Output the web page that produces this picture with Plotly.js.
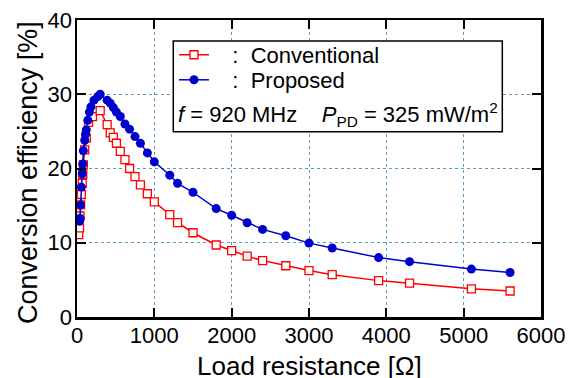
<!DOCTYPE html>
<html>
<head>
<meta charset="utf-8">
<script src="https://cdn.plot.ly/plotly-3.0.1.min.js"></script>
<style>html,body{margin:0;padding:0;background:#fff;}#chart{width:579px;height:378px;}</style>
</head>
<body>
<div id="chart"></div>
<script>
// Load resistance [Ω] and conversion efficiency [%]
const convR = [22, 33, 39, 47, 56, 68, 75, 82, 100, 120, 150, 200, 300, 390, 430, 470, 510, 560, 620, 680, 750, 820, 910, 1000, 1200, 1300, 1500, 1800, 2000, 2200, 2400, 2700, 3000, 3300, 3900, 4300, 5100, 5600];
const convE = [11.1, 12.0, 13.6, 15.1, 16.5, 18.0, 19.2, 20.5, 22.5, 24.1, 26.2, 27.0, 27.8, 25.9, 24.8, 24.2, 23.4, 22.3, 21.2, 20.0, 18.9, 17.8, 16.6, 15.5, 13.8, 12.7, 11.35, 9.7, 8.95, 8.2, 7.6, 6.9, 6.25, 5.7, 4.9, 4.55, 3.8, 3.5];
const propR = [33, 39, 47, 56, 68, 75, 82, 100, 110, 120, 140, 160, 180, 220, 270, 300, 390, 430, 470, 510, 560, 620, 680, 750, 820, 910, 1000, 1200, 1300, 1500, 1800, 2000, 2200, 2400, 2700, 3000, 3300, 3900, 4300, 5100, 5600];
const propE = [12.9, 13.3, 15.1, 17.5, 19.3, 20.6, 22.4, 23.8, 24.6, 25.2, 26.5, 27.6, 28.3, 29.2, 29.7, 30.0, 29.2, 28.8, 28.2, 27.6, 27.0, 26.0, 25.3, 24.3, 23.4, 22.1, 20.9, 19.1, 18.0, 16.8, 14.6, 13.7, 12.7, 11.8, 10.95, 9.95, 9.3, 8.0, 7.45, 6.45, 6.0];
const seriesNames = ['\u00a0\u00a0\u00a0:\u00a0\u00a0Conventional', '\u00a0\u00a0\u00a0:\u00a0\u00a0Proposed'];
const xTicks = [0, 1000, 2000, 3000, 4000, 5000, 6000];
const yTicks = [0, 10, 20, 30, 40];
const xTitle = 'Load resistance [\u03a9]';
const yTitle = 'Conversion efficiency [%]';
const conditionText = '<i>f</i> = 920 MHz\u00a0\u00a0\u00a0\u00a0<i>P</i><sub>PD</sub> = 325 mW/m<sup>2</sup>';

const FONT = 'Liberation Sans, Arial, Helvetica, sans-serif';
const gridColor = '#5b9bc0';

const traces = [
  {x: convR, y: convE, name: seriesNames[0], type: 'scatter', mode: 'lines+markers', legend: 'legend',
   line: {color: '#ff0000', width: 1.5},
   marker: {symbol: 'square', size: 8, color: '#ffffff', line: {color: '#ff0000', width: 1.3}}},
  {x: propR, y: propE, name: seriesNames[1], type: 'scatter', mode: 'lines+markers', legend: 'legend2',
   line: {color: '#0000cc', width: 1.5},
   marker: {symbol: 'circle', size: 9, color: '#0000cc', line: {width: 0}}}
];

const axisCommon = {
  showline: true, linecolor: '#000', linewidth: 2.5, mirror: 'ticks',
  ticks: 'inside', ticklen: 9, tickwidth: 2, tickcolor: '#000',
  showgrid: true, gridcolor: gridColor, gridwidth: 1, griddash: 'dot',
  zeroline: false, tickfont: {family: FONT, size: 22, color: '#000'}
};

const legendCommon = {xanchor: 'left', yanchor: 'top', bgcolor: 'rgba(0,0,0,0)', borderwidth: 0,
  font: {family: FONT, size: 22, color: '#000'}};

const layout = {
  width: 579, height: 378,
  margin: {l: 77, r: 38, t: 20, b: 61},
  paper_bgcolor: '#fff', plot_bgcolor: '#fff',
  font: {family: FONT, color: '#000'},
  xaxis: Object.assign({}, axisCommon, {
    range: [0, 6000], tickvals: xTicks, ticktext: xTicks.map(String), ticklabelstandoff: -3
  }),
  yaxis: Object.assign({}, axisCommon, {
    range: [0, 40], tickvals: yTicks, ticktext: yTicks.map(String), ticklabelstandoff: -2
  }),
  showlegend: true,
  legend: Object.assign({}, legendCommon, {x: 0.209, y: 0.953}),
  legend2: Object.assign({}, legendCommon, {x: 0.209, y: 0.8687}),
  shapes: [
    {type: 'rect', xref: 'paper', yref: 'paper', x0: 0.2075, x1: 0.9166, y0: 0.624, y1: 0.929,
     line: {color: '#000', width: 1.5}, fillcolor: '#fff', layer: 'above'}
  ],
  annotations: [
    {xref: 'paper', yref: 'paper', x: 0.213, y: 0.683, xanchor: 'left', yanchor: 'middle', showarrow: false,
     text: conditionText, font: {family: FONT, size: 22, color: '#000'}},
    {xref: 'paper', yref: 'paper', x: 0.5, y: -0.166, xanchor: 'center', yanchor: 'middle', showarrow: false,
     text: xTitle, font: {family: FONT, size: 26, color: '#000'}},
    {xref: 'paper', yref: 'paper', x: -0.1056, y: 0.485, xanchor: 'center', yanchor: 'middle', showarrow: false,
     textangle: -90, text: yTitle, font: {family: FONT, size: 27, color: '#000'}}
  ]
};

Plotly.newPlot('chart', traces, layout, {displayModeBar: false, staticPlot: true});
</script>
</body>
</html>
